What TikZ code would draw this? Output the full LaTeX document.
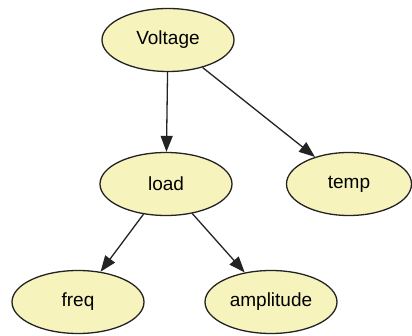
\documentclass[tikz,border=0pt]{standalone}
\usepackage{fontspec}
\setmainfont{Liberation Sans}
\usetikzlibrary{shapes.geometric,arrows.meta}
\definecolor{nodefill}{RGB}{246,243,188}
\definecolor{edgecol}{RGB}{35,35,35}
\tikzset{
  var/.style={ellipse, draw=edgecol, line width=1.3pt, fill=nodefill, minimum width=132pt, minimum height=63pt, inner sep=0pt, font=\fontsize{19}{22}\selectfont},
  link/.style={draw=edgecol, line width=1.3pt, -{Triangle[length=16pt,width=12pt]}}
}
\begin{document}
\begin{tikzpicture}[x=1pt,y=-1pt]
\useasboundingbox (0,0) rectangle (412,336);
\fill[white] (0,0) rectangle (412,336);
\node[var] (voltage) at (168,40) {Voltage};
\node[var] (load) at (166,184) {load};
\node[var, minimum width=125pt] (temp) at (349,184) {temp};
\node[var] (freq) at (78,302) {freq};
\node[var] (amp) at (271,302) {amplitude};
\draw[link] (voltage) -- (load);
\draw[link] (voltage) -- (temp);
\draw[link] (load) -- (freq);
\draw[link] (load) -- (amp);
\end{tikzpicture}
\end{document}
